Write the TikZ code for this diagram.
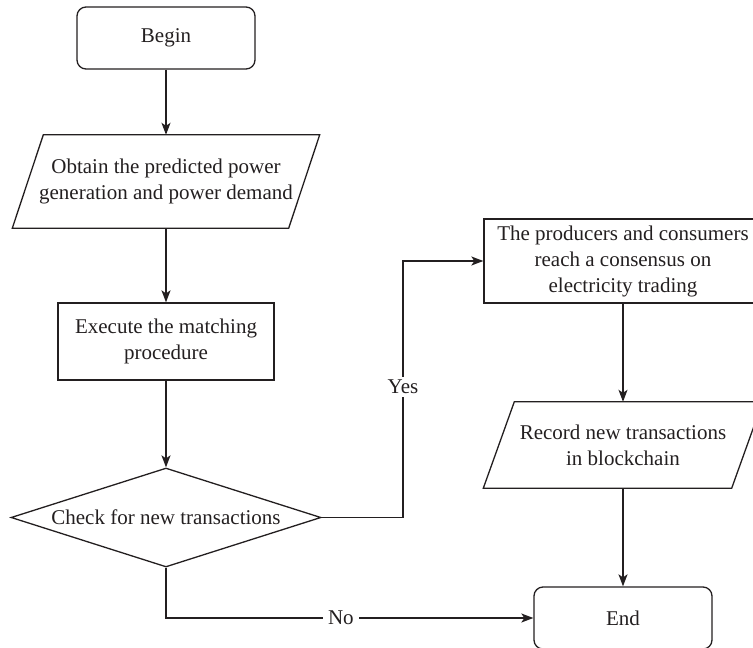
\documentclass[tikz,border=0pt]{standalone}
\usepackage{fontspec}
\setmainfont{Liberation Serif}
\usetikzlibrary{shapes.geometric,arrows.meta,calc}
\definecolor{ink}{HTML}{231F20}

\begin{document}
\begin{tikzpicture}[x=1pt,y=-1pt,
  every node/.style={font=\fontsize{21}{26}\selectfont, text=ink, align=center},
  outline/.style={draw=ink, line width=1.3pt},
  terminal/.style={outline, rounded corners=9pt, minimum width=178pt, minimum height=62pt, inner sep=0pt},
  process/.style={outline, inner sep=0pt},
  io/.style={inner sep=0pt},
  decision/.style={diamond, outline, inner sep=0pt, aspect=3.13, minimum width=310pt, minimum height=99pt},
  arr/.style={outline, -{Stealth[length=12pt,width=9pt,inset=3pt]}},
  lbl/.style={fill=white, inner xsep=5pt, inner ysep=3pt}
]
\useasboundingbox (0,0) rectangle (753,648);
\clip (0,0) rectangle (753,648);

% main column
\node[terminal] (begin) at (166,38) {Begin};
\node[io, minimum width=307pt, minimum height=93pt] (obtain) at (166,181.5)
  {Obtain the predicted power\\generation and power demand};
\draw[outline] (obtain.south west) -- ($(obtain.north west)+(31,0)$)
  -- (obtain.north east) -- ($(obtain.south east)+(-31,0)$) -- cycle;
\node[process, minimum width=216pt, minimum height=77pt] (exec) at (166,341.5)
  {Execute the matching\\procedure};
\node[decision] (check) at (166,517.5) {Check for new transactions};

% right column
\node[process, minimum width=278pt, minimum height=84pt] (cons) at (623,261)
  {The producers and consumers\\reach a consensus on\\electricity trading};
\node[io, minimum width=279pt, minimum height=86pt] (record) at (623,445)
  {Record new transactions\\in blockchain};
\draw[outline] (record.south west) -- ($(record.north west)+(31,0)$)
  -- (record.north east) -- ($(record.south east)+(-31,0)$) -- cycle;
\node[terminal] (end) at (623,618) {End};

% connectors
\draw[arr] (begin.south) -- (obtain.north);
\draw[arr] (obtain.south) -- (exec.north);
\draw[arr] (exec.south) -- (check.north);
\coordinate (ytop) at (403,261);
\draw[arr] (check.east) -| node[lbl,pos=0.754]{Yes} (ytop) -- (cons.west);
\draw[arr] (cons.south) -- (record.north);
\draw[arr] (record.south) -- (end.north);
\draw[arr] (check.south) |- node[lbl,pos=0.738]{No} (end.west);
\end{tikzpicture}
\end{document}
